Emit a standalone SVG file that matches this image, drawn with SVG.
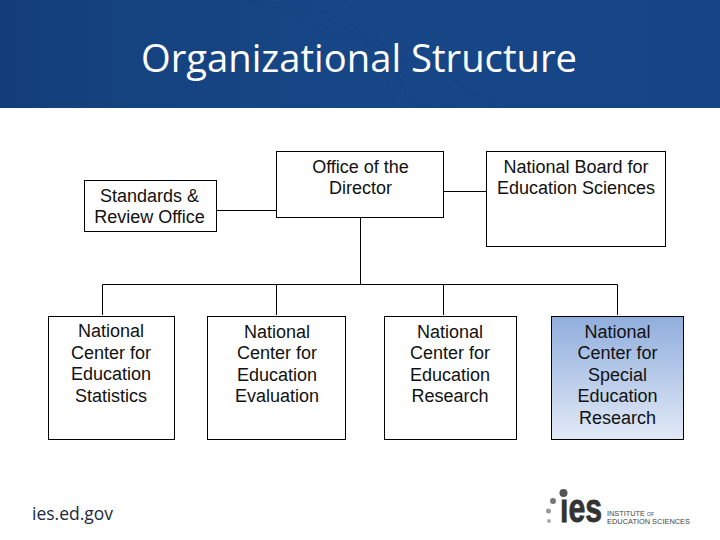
<svg xmlns="http://www.w3.org/2000/svg" width="720" height="540" viewBox="0 0 720 540">
<style>
.box{fill:#fff;stroke:#000;stroke-width:1}
.t{font-family:"Liberation Sans",Arial,sans-serif;font-size:18px;fill:#111;text-anchor:middle}
.c{fill:none;stroke:#000;stroke-width:1}
.s{font-family:"Open Sans","Noto Sans",sans-serif}
.w{fill:none;stroke:#0f3a72;stroke-width:.6;opacity:.35}
.l{font-family:"Liberation Sans",sans-serif;font-size:6.500px;fill:#444}
</style>
<defs>
<linearGradient id="blue" x1="0" y1="0" x2="0" y2="1"><stop offset="0" stop-color="#90AEDD"/><stop offset="1" stop-color="#E2E9F6"/></linearGradient>
<linearGradient id="hdr" x1="0" y1="0" x2="1" y2="0"><stop offset="0" stop-color="#123D78"/><stop offset=".14" stop-color="#15427F"/><stop offset=".5" stop-color="#174787"/><stop offset="1" stop-color="#154586"/></linearGradient>
</defs>
<rect width="720" height="540" fill="#fff"/>
<rect width="720" height="108" fill="url(#hdr)"/>
<path class="w" d="M250 0C330 20 390 60 420 108M265 0C340 22 400 60 432 108M280 0C350 24 410 62 444 108M295 0C360 26 420 64 456 108M310 30C380 40 440 70 500 108M330 0C365 30 385 70 395 108M345 0C380 30 400 70 410 108"/>
<text x="359" y="72" class="s" font-size="38" fill="#fff" text-anchor="middle" textLength="436" lengthAdjust="spacingAndGlyphs">Organizational Structure</text>
<g id="connectors">
<path class="c" d="M217 210.500H276.500M444 191.500H486.500M360.500 217V284.500M102.500 284.500H617.500M102.500 284.500V315M276.500 284.500V315M443.500 284.500V315M617.500 284.500V315"/>
</g>
<g id="standards"><rect class="box" x="84.500" y="180.500" width="132" height="51"/><text class="t" x="149.500" y="202">Standards &amp;</text><text class="t" x="149.500" y="223">Review Office</text></g>
<g id="director"><rect class="box" x="276.500" y="151.500" width="167" height="66"/><text class="t" x="360.500" y="172.500">Office of the</text><text class="t" x="360.500" y="193.500">Director</text></g>
<g id="board"><rect class="box" x="486.500" y="151.500" width="179" height="95"/><text class="t" x="576" y="172.500">National Board for</text><text class="t" x="576" y="193.500">Education Sciences</text></g>
<g id="statistics"><rect class="box" x="48.500" y="316.500" width="126" height="123"/><text class="t" x="111" y="336.500">National</text><text class="t" x="111" y="358.500">Center for</text><text class="t" x="111" y="379.500">Education</text><text class="t" x="111" y="401.500">Statistics</text></g>
<g id="evaluation"><rect class="box" x="207.500" y="316.500" width="138" height="123"/><text class="t" x="277" y="337.500">National</text><text class="t" x="277" y="358.500">Center for</text><text class="t" x="277" y="380.500">Education</text><text class="t" x="277" y="401.500">Evaluation</text></g>
<g id="research"><rect class="box" x="384.500" y="316.500" width="132" height="123"/><text class="t" x="450" y="337.500">National</text><text class="t" x="450" y="358.500">Center for</text><text class="t" x="450" y="380.500">Education</text><text class="t" x="450" y="401.500">Research</text></g>
<g id="special"><rect x="551.500" y="316.500" width="132" height="123" fill="url(#blue)" stroke="#000"/><text class="t" x="617.500" y="337.500">National</text><text class="t" x="617.500" y="358.500">Center for</text><text class="t" x="617.500" y="380.500">Special</text><text class="t" x="617.500" y="401.500">Education</text><text class="t" x="617.500" y="423.500">Research</text></g>
<text x="32" y="520" class="s" font-size="18" fill="#1a2a40" textLength="81" lengthAdjust="spacingAndGlyphs">ies.ed.gov</text>
<g id="logo">
<text transform="translate(560 522) scale(.755 1)" font-family="'Liberation Sans',sans-serif" font-weight="bold" font-size="40" fill="#333" stroke="#333" stroke-width=".8">ies</text>
<rect x="559" y="489" width="11" height="10" fill="#fff"/>
<circle cx="563.500" cy="493" r="4" fill="#555"/><circle cx="553" cy="501" r="3" fill="#777"/><circle cx="548.500" cy="511" r="2.500" fill="#999"/><circle cx="549" cy="521" r="2" fill="#aaa"/>
<text class="l" x="607" y="515.500" textLength="47" lengthAdjust="spacingAndGlyphs">INSTITUTE <tspan font-size="4.500">OF</tspan></text>
<text class="l" x="607" y="523.500" textLength="83" lengthAdjust="spacingAndGlyphs">EDUCATION SCIENCES</text>
</g>
</svg>
